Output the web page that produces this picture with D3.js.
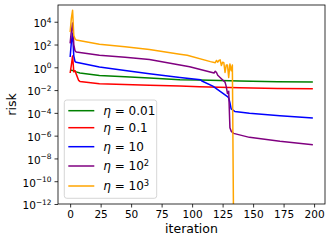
<!DOCTYPE html>
<html>
<head>
<meta charset="utf-8">
<script src="https://cdn.jsdelivr.net/npm/d3@7"></script>
<style>
  body { margin: 0; background: #fff; }
  svg { display: block; font-family: "DejaVu Sans", sans-serif; }
  .axis path, .axis line { stroke: #000; stroke-width: 0.8; }
  .axis text { fill: #000; font-size: 10.5px; font-family: "DejaVu Sans", sans-serif; }
</style>
</head>
<body>
<div id="chart"></div>
<script>

// values (iteration, risk)
var iterGreen  = [0, 1, 2, 3, 5, 8, 24, 45, 65, 90, 106, 139, 170, 199];
var riskGreen  = [0.537, 0.562, 0.525, 0.501, 0.398, 0.316, 0.195, 0.148, 0.117, 0.0813, 0.0759, 0.0631, 0.055, 0.0501];

var iterRed    = [0, 1, 2, 3, 4, 5, 7, 8, 24, 65, 90, 106, 139, 170, 199];
var riskRed    = [0.316, 1.58, 10, 0.398, 0.501, 0.251, 0.0708, 0.0575, 0.0363, 0.0269, 0.0224, 0.02, 0.0158, 0.0141, 0.0129];

var iterBlue   = [0, 1, 2, 3, 4, 5, 24, 45, 65, 90, 107, 108, 117, 125, 129, 130, 131, 132, 135, 147, 172, 199];
var riskBlue   = [7.94, 158, 1000, 10, 3.16, 2.75, 1.07, 0.525, 0.275, 0.126, 0.0794, 0.0631, 0.0224, 5.37e-3, 2.69e-3, 2.0e-3, 7.94e-4, 2.24e-4, 1.35e-4, 9.12e-5, 5.62e-5, 3.55e-5];

var iterPurple = [0, 1, 2, 3, 4, 5, 24, 45, 65, 90, 98, 118, 119, 120, 121, 124, 127, 128, 129, 130, 131, 132, 134, 147, 172, 199];
var riskPurple = [126, 1585, 7943, 100, 28.2, 22.4, 11.5, 7.59, 4.79, 1.58, 1.12, 0.316, 0.447, 0.355, 0.2, 0.1, 0.0501, 0.02, 5.01e-3, 7.94e-3, 5.01e-6, 2.51e-6, 1.58e-6, 7.08e-7, 3.16e-7, 1.58e-7];

var iterOrange = [0, 1, 2, 3, 4, 5, 24, 45, 65, 90, 96, 115, 119, 120, 121, 122, 123, 124, 125, 126, 127, 128, 129, 130, 131, 132, 133, 134];
var riskOrange = [1259, 2e4, 1e5, 631, 316, 251, 107, 63.1, 37.2, 14.1, 11.5, 3.16, 2.51, 3.98, 2.82, 3.98, 4.47, 1.41, 2.82, 2.51, 0.355, 1.58, 1.58, 0.126, 2.0, 0.501, 1.58, 1e-14];

var seriesNames  = ["0.01", "0.1", "10", "10^2", "10^3"];
var seriesColors = ["green", "red", "blue", "purple", "orange"];

var xTicks = [0, 25, 50, 75, 100, 125, 150, 175, 200];
var yTicks = [1e-12, 1e-10, 1e-8, 1e-6, 1e-4, 1e-2, 1, 1e2, 1e4];

var series = [
  {iter: iterGreen,  risk: riskGreen},
  {iter: iterRed,    risk: riskRed},
  {iter: iterBlue,   risk: riskBlue},
  {iter: iterPurple, risk: riskPurple},
  {iter: iterOrange, risk: riskOrange}
].map(function(s, i) {
  return {
    name: seriesNames[i],
    color: seriesColors[i],
    points: s.iter.map(function(t, j) { return [t, s.risk[j]]; })
  };
});

var margin = {top: 5, right: 7, bottom: 37, left: 58},
    width = 332 - margin.left - margin.right,
    height = 241 - margin.top - margin.bottom;

var x = d3.scaleLinear()
    .domain([-9.95, 208.95])
    .range([0, width]);

var y = d3.scaleLog()
    .domain([1e-12, Math.pow(10, 5.47)])
    .range([height, 0]);

var svg = d3.select("#chart").append("svg")
    .attr("width", 332)
    .attr("height", 241)
  .append("g")
    .attr("transform", "translate(" + margin.left + "," + margin.top + ")");

svg.append("defs").append("clipPath")
    .attr("id", "clip")
  .append("rect")
    .attr("width", width)
    .attr("height", height);

var line = d3.line()
    .x(function(d) { return x(d[0]); })
    .y(function(d) { return y(d[1]); });

svg.append("g")
    .attr("clip-path", "url(#clip)")
  .selectAll(".line")
    .data(series)
  .enter().append("path")
    .attr("class", "line")
    .attr("d", function(d) { return line(d.points); })
    .style("fill", "none")
    .style("stroke", function(d) { return d.color; })
    .style("stroke-width", 1.5)
    .style("stroke-linejoin", "round");

// axes
var xAxis = d3.axisBottom(x)
    .tickValues(xTicks)
    .tickSize(3.5)
    .tickPadding(3.5)
    .tickFormat(d3.format("d"));

var yAxis = d3.axisLeft(y)
    .tickValues(yTicks)
    .tickSize(3.5)
    .tickPadding(3);

svg.append("g")
    .attr("class", "x axis")
    .attr("transform", "translate(0," + height + ")")
    .call(xAxis)
    .call(function(g) { g.select(".domain").remove(); });

var gy = svg.append("g")
    .attr("class", "y axis")
    .call(yAxis)
    .call(function(g) { g.select(".domain").remove(); });

gy.selectAll(".tick text")
    .attr("dy", "0.46em")
    .text(null)
    .each(function(d) {
      var t = d3.select(this);
      var e = Math.round(Math.log10(d));
      t.append("tspan").text("10");
      t.append("tspan")
          .attr("dy", "-0.58em")
          .style("font-size", "7.4px")
          .text(String(e).replace("-", "\u2212"));
    });

// frame
svg.append("rect")
    .attr("width", width)
    .attr("height", height)
    .style("fill", "none")
    .style("stroke", "#000")
    .style("stroke-width", 0.8);

svg.append("text")
    .attr("x", width / 2)
    .attr("y", height + 29)
    .style("text-anchor", "middle")
    .style("font-size", "12.5px")
    .text("iteration");

svg.append("text")
    .attr("transform", "rotate(-90)")
    .attr("x", -height / 2)
    .attr("y", -42)
    .style("text-anchor", "middle")
    .style("font-size", "12.5px")
    .text("risk");

// legend
var legendOffsets = [10.7, 27.7, 46.7, 66, 86];

var legend = svg.append("g")
    .attr("transform", "translate(6.3,95)");

legend.append("rect")
    .attr("width", 92.4)
    .attr("height", 98.3)
    .attr("rx", 2.5)
    .style("fill", "#fff")
    .style("fill-opacity", 0.8)
    .style("stroke", "#ccc")
    .style("stroke-width", 0.8);

var entry = legend.selectAll(".entry")
    .data(series)
  .enter().append("g")
    .attr("class", "entry")
    .attr("transform", function(d, i) { return "translate(0," + legendOffsets[i] + ")"; });

entry.append("line")
    .attr("x1", 4)
    .attr("x2", 30)
    .style("stroke", function(d) { return d.color; })
    .style("stroke-width", 1.5);

entry.append("text")
    .attr("x", 39)
    .attr("y", 4.3)
    .style("font-size", "12px")
    .each(function(d) {
      var t = d3.select(this);
      var parts = d.name.split("^");
      t.append("tspan").style("font-style", "italic").text("\u03b7");
      t.append("tspan").text(" = " + parts[0]);
      if (parts[1]) {
        t.append("tspan")
            .attr("dy", "-0.5em")
            .style("font-size", "8.4px")
            .text(parts[1]);
      }
    });

</script>
</body>
</html>
